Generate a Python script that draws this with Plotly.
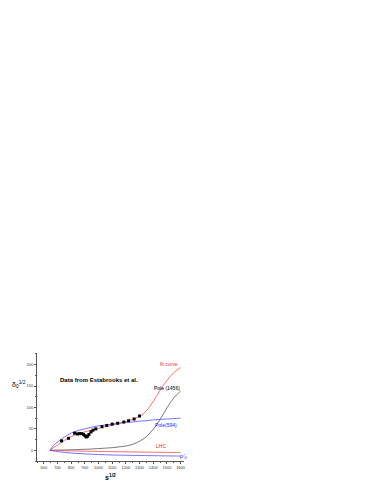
import plotly.graph_objects as go

# Data points (Estabrooks et al.)
data_s = [730, 780, 825, 845, 860, 875, 890, 900, 910, 920, 930, 945, 960, 980,
          1025, 1060, 1100, 1140, 1185, 1220, 1260, 1300]
data_delta = [22, 28, 40, 38, 39, 39, 37, 34, 31, 33, 37, 43, 47, 50,
              55, 58, 61, 63, 66, 69, 73, 80]

# Curves
curve_s = [645, 670, 700, 750, 800, 850, 900, 950, 1000, 1050, 1100, 1150, 1200,
           1250, 1300, 1350, 1400, 1450, 1500, 1550, 1600]
fit_curve = [0, 6, 12, 23, 32, 38, 43, 47, 51, 55, 59, 63, 67,
             72, 79, 92, 114, 140, 163, 181, 193]
pole_1456 = [0, 0.2, 0.4, 0.8, 1.2, 1.7, 2.3, 3, 4, 5, 6, 8, 10,
             14, 21, 32, 49, 72, 99, 122, 138]
pole_594 = [0, 11, 19, 31, 40, 46, 50, 54, 57, 59, 61, 63, 65,
            66, 68, 69, 71, 72, 73, 74, 75]
lhc = [0, -0.3, -0.6, -1.0, -1.4, -1.8, -2.1, -2.4, -2.7, -3.0, -3.2, -3.5, -3.7,
       -3.9, -4.1, -4.3, -4.5, -4.7, -4.9, -5.1, -5.3]
rho_prime = [0, -1.5, -3, -5, -6.5, -7.5, -8.5, -9.3, -10, -10.5, -11, -11.3, -11.6,
             -11.9, -12.1, -12.4, -12.6, -12.9, -13.1, -13.3, -13.5]

x_ticks = [600, 700, 800, 900, 1000, 1100, 1200, 1300, 1400, 1500, 1600]
y_ticks = [0, 50, 100, 150, 200]

fig = go.Figure()
fig.add_trace(go.Scatter(x=curve_s, y=fit_curve, mode="lines", line=dict(color="#ff4a4a", width=0.8, shape="spline")))
fig.add_trace(go.Scatter(x=curve_s, y=pole_1456, mode="lines", line=dict(color="#555555", width=0.8, shape="spline")))
fig.add_trace(go.Scatter(x=curve_s, y=pole_594, mode="lines", line=dict(color="#5050ff", width=0.8, shape="spline")))
fig.add_trace(go.Scatter(x=curve_s, y=lhc, mode="lines", line=dict(color="#ff4a4a", width=0.8, shape="spline")))
fig.add_trace(go.Scatter(x=curve_s, y=rho_prime, mode="lines", line=dict(color="#5050ff", width=0.8, shape="spline")))
fig.add_trace(go.Scatter(x=data_s, y=data_delta, mode="markers",
                         marker=dict(symbol="square", size=3, color="black")))

lab_font = dict(family="Liberation Sans, Arial", size=5)
ann = [
    dict(x=1000, y=164, text="<b>Data from Estabrooks et al.</b>", font=dict(family="Liberation Sans, Arial", size=6, color="black")),
    dict(x=1515, y=202, text="fit curve", font=dict(lab_font, color="#ff2020")),
    dict(x=1500, y=146, text="Pole (1456)", font=dict(lab_font, color="black")),
    dict(x=1494, y=59, text="Pole(594)", font=dict(lab_font, color="#2020ff")),
    dict(x=1458, y=10, text="LHC", font=dict(lab_font, color="#ff2020")),
    dict(x=1625, y=-15, text="ρ'<sub>0</sub>", font=dict(family="Liberation Sans, Arial", size=6, color="#2020ff")),
]
for a in ann:
    a.update(xref="x", yref="y", showarrow=False)
fig.update_layout(annotations=ann)
fig.add_annotation(xref="paper", yref="paper", x=-0.12, y=0.77, xanchor="center",
                   text="δ<sub>0</sub><sup>1/2</sup>", showarrow=False,
                   font=dict(family="Liberation Sans, Arial", size=7, color="black"))
fig.add_annotation(xref="paper", yref="paper", x=0.5, y=-0.2, xanchor="center",
                   text="<b>s<sup>1/2</sup></b>", showarrow=False,
                   font=dict(family="Liberation Sans, Arial", size=7, color="black"))

# page body has an 8px default margin, so the figure is sized to fit the window
fig.update_layout(
    width=374, height=486,
    margin=dict(l=28.5, r=198, t=345, b=33, autoexpand=False),
    paper_bgcolor="white", plot_bgcolor="white",
    showlegend=False,
    font=dict(family="Liberation Sans, Arial", size=4, color="#333333"),
)
fig.update_xaxes(range=[550, 1625], tickvals=x_ticks, ticktext=[str(v) for v in x_ticks],
                 showgrid=False, zeroline=False, showline=True, linecolor="#555555", linewidth=1,
                 ticks="outside", ticklen=2, tickcolor="#555555", tickfont=dict(size=4),
                 minor=dict(ticks="outside", ticklen=1, dtick=50, tickcolor="#555555"))
fig.update_yaxes(range=[-25, 227], tickvals=y_ticks, ticktext=[str(v) for v in y_ticks],
                 showgrid=False, zeroline=False, showline=True, linecolor="#555555", linewidth=1,
                 ticks="outside", ticklen=2, tickcolor="#555555", tickfont=dict(size=4),
                 minor=dict(ticks="outside", ticklen=1, dtick=25, tickcolor="#555555"))

fig.write_html("out.html")
